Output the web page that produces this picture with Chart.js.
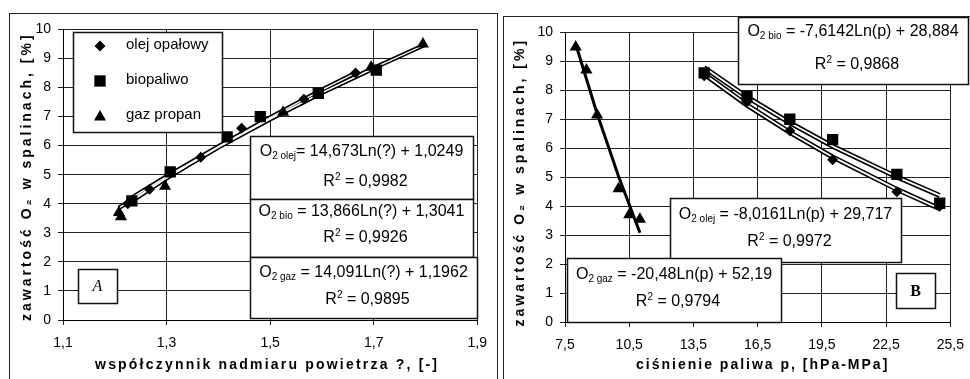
<!DOCTYPE html>
<html>
<head>
<meta charset="utf-8">
<script src="https://cdn.jsdelivr.net/npm/chart.js@4.4.0/dist/chart.umd.min.js"></script>
<style>
  html, body { margin: 0; padding: 0; background: #fff; width: 970px; height: 379px; overflow: hidden; }
  .frame { position: absolute; border: 1px solid #222; border-bottom: none; background: #fff; }
  #frameA { left: 9px; top: 13px; width: 487px; height: 366px; }
  #frameB { left: 503px; top: 16px; width: 470px; height: 363px; }
</style>
</head>
<body>
<div class="frame" id="frameA"><canvas id="chartA"></canvas></div>
<div class="frame" id="frameB"><canvas id="chartB"></canvas></div>
<script>
// ---- chart A : O2 vs lambda ----
const seriesNames = ['olej opałowy', 'biopaliwo', 'gaz propan'];

const lambdaOlej = [1.225, 1.267, 1.366, 1.445, 1.565, 1.665];
const o2Olej     = [4.0, 4.5, 5.6, 6.6, 7.6, 8.5];
const lambdaBio  = [1.233, 1.307, 1.417, 1.481, 1.593, 1.705];
const o2Bio      = [4.1, 5.1, 6.3, 7.0, 7.8, 8.6];
const lambdaGaz  = [1.208, 1.212, 1.297, 1.525, 1.695, 1.795];
const o2Gaz      = [3.7, 3.55, 4.6, 7.15, 8.7, 9.5];

// trend curves
const trendLambdaOlej = [1.225, 1.3, 1.4, 1.5, 1.6, 1.665];
const trendOlej       = [4.0, 4.88, 5.96, 6.97, 7.92, 8.5];
const trendLambdaBio  = [1.233, 1.3, 1.4, 1.5, 1.6, 1.705];
const trendBio        = [4.21, 4.94, 5.97, 6.93, 7.82, 8.7];
const trendLambdaGaz  = [1.208, 1.3, 1.4, 1.5, 1.6, 1.7, 1.8];
const trendGaz        = [3.86, 4.89, 5.94, 6.91, 7.82, 8.67, 9.48];

const xTitleA = 'współczynnik nadmiaru powietrza ?, [-]';
const eqNamesA = ['olej', 'bio', 'gaz'];
const eqTextA  = ['= 14,673Ln(?) + 1,0249', ' = 13,866Ln(?) + 1,3041', ' = 14,091Ln(?) + 1,1962'];
const r2A      = ['0,9982', '0,9926', '0,9895'];

// ---- chart B : O2 vs pressure ----
const pOlej  = [14, 16, 18, 20, 23, 25];
const o2POlej = [8.5, 7.6, 6.6, 5.6, 4.5, 4.0];
const pBio   = [14, 16, 18, 20, 23, 25];
const o2PBio  = [8.6, 7.8, 7.0, 6.3, 5.1, 4.1];
const pGaz   = [8, 8.5, 9, 10, 10.5, 11];
const o2PGaz  = [9.5, 8.7, 7.15, 4.6, 3.7, 3.55];

const trendPOlej = [14, 16, 18, 20, 23, 25];
const trendPOlejV = [8.56, 7.49, 6.55, 5.7, 4.58, 3.91];
const trendPBio  = [14, 16, 18, 20, 23, 25];
const trendPBioV  = [8.79, 7.77, 6.88, 6.07, 5.01, 4.37];
const trendPGaz  = [8, 9, 10, 11];
const trendPGazV  = [9.6, 7.19, 5.03, 3.08];

const xTitleB = 'ciśnienie paliwa p, [hPa-MPa]';
const yTitle = 'zawartość O₂ w spalinach, [%]';
const eqNamesB = ['bio', 'olej', 'gaz'];
const eqTextB  = [' = -7,6142Ln(p) + 28,884', ' = -8,0161Ln(p) + 29,717', ' = -20,48Ln(p) + 52,19'];
const r2B      = ['0,9868', '0,9972', '0,9794'];

const pts = (xs, ys) => xs.map((x, i) => ({x: x, y: ys[i]}));
const FONT = '"Liberation Sans", Arial, sans-serif';

function markerSet(name, xs, ys, style, r) {
  return { label: name, data: pts(xs, ys), showLine: false, pointStyle: style, pointRadius: r,
    pointHoverRadius: r, pointBackgroundColor: '#000', pointBorderColor: '#000', pointBorderWidth: 0, order: 1 };
}
function trendSet(xs, ys, color, w, order) {
  return { label: 'hide', data: pts(xs, ys), showLine: true, pointRadius: 0, borderColor: color,
    borderWidth: w, tension: 0, order: order };
}

function drawMarker(ctx, style, x, y, r) {
  ctx.beginPath();
  if (style === 'rectRot') {
    ctx.moveTo(x - r, y); ctx.lineTo(x, y - r); ctx.lineTo(x + r, y); ctx.lineTo(x, y + r);
  } else if (style === 'rect') {
    const s = Math.SQRT1_2 * r;
    ctx.rect(x - s, y - s, 2 * s, 2 * s);
  } else {
    ctx.moveTo(x, y - r); ctx.lineTo(x + r * 0.866, y + r * 0.5); ctx.lineTo(x - r * 0.866, y + r * 0.5);
  }
  ctx.closePath();
  ctx.fillStyle = '#000';
  ctx.fill();
}

// text made of runs: [text, size, dy]
function drawRich(ctx, runs, cx, cy) {
  let total = 0;
  runs.forEach(r => { ctx.font = r[1] + 'px ' + FONT; total += ctx.measureText(r[0]).width; });
  let x = cx - total / 2;
  ctx.textAlign = 'left';
  ctx.textBaseline = 'middle';
  runs.forEach(r => {
    ctx.font = r[1] + 'px ' + FONT;
    ctx.fillText(r[0], x, cy + r[2]);
    x += ctx.measureText(r[0]).width;
  });
}

function frameBox(ctx, x, y, w, h) {
  ctx.fillStyle = '#fff';
  ctx.fillRect(x, y, w, h);
  ctx.strokeStyle = '#111';
  ctx.lineWidth = 1.5;
  ctx.strokeRect(x + 0.5, y + 0.5, w, h);
}

const overlay = {
  id: 'overlay',
  afterDraw(chart, args, o) {
    const ctx = chart.ctx;
    const area = chart.chartArea;
    ctx.save();
    ctx.fillStyle = '#000';
    // axis titles
    ctx.font = 'bold 14px ' + FONT;
    ctx.letterSpacing = o.xSpacing + 'px';
    ctx.textAlign = 'center';
    ctx.textBaseline = 'middle';
    ctx.fillText(o.xTitle, (area.left + area.right) / 2 + o.xShift, o.xTitleY);
    ctx.save();
    ctx.translate(o.yTitleX, (area.top + area.bottom) / 2 + o.yShift);
    ctx.rotate(-Math.PI / 2);
    ctx.letterSpacing = o.ySpacing + 'px';
    ctx.fillText(yTitle, 0, 0);
    ctx.restore();
    ctx.letterSpacing = '0px';

    // legend
    if (o.legend) {
      const L = o.legend;
      frameBox(ctx, L.x, L.y, L.w, L.h);
      const styles = ['rectRot', 'rect', 'triangle'];
      const radii = [5.5, 8, 7];
      seriesNames.forEach((n, i) => {
        const yy = L.y + 14 + i * 35;
        drawMarker(ctx, styles[i], L.x + 27, yy + (i === 2 ? 1 : 0), radii[i]);
        ctx.fillStyle = '#000';
        ctx.font = '15px ' + FONT;
        ctx.textAlign = 'left';
        ctx.textBaseline = 'middle';
        ctx.fillText(n, L.x + 53, yy - 1);
      });
    }

    // equation boxes
    o.boxes.forEach((b, i) => {
      frameBox(ctx, b.x, b.y, b.w, b.h);
      ctx.fillStyle = '#000';
      drawRich(ctx, [['O', 16, 0], ['2 ' + o.eqNames[i], 10, 4], [o.eqText[i], 16, 0]], b.x + b.w / 2, b.y + b.l1);
      drawRich(ctx, [['R', 16, 0], ['2', 10, -5], [' = ' + o.r2[i], 16, 0]], b.x + b.w / 2 + 4, b.y + b.l2);
    });

    // panel letter
    const P = o.panel;
    frameBox(ctx, P.x, P.y, P.w, P.h);
    ctx.fillStyle = '#000';
    ctx.font = (P.italic ? 'italic ' : 'bold ') + '16px "Liberation Serif", "Times New Roman", serif';
    ctx.textAlign = 'center';
    ctx.textBaseline = 'middle';
    ctx.fillText(P.t, P.x + P.w / 2, P.y + P.h / 2 + 1);
    ctx.restore();
  }
};

const fmt = v => (Math.round(v * 10) / 10).toFixed(1).replace('.', ',');

function axes(xmin, xmax, xstep, yWidth, xHeight) {
  const tickFont = { family: FONT, size: 14 };
  return {
    x: { type: 'linear', min: xmin, max: xmax,
      ticks: { stepSize: xstep, callback: fmt, color: '#000', font: tickFont, padding: 10, maxRotation: 0 },
      grid: { color: '#222', lineWidth: 1, tickLength: 5 },
      border: { color: '#000', width: 1 },
      afterFit: s => { s.height = xHeight; } },
    y: { type: 'linear', min: 0, max: 10,
      ticks: { stepSize: 1, color: '#000', font: tickFont, padding: 7 },
      grid: { color: '#222', lineWidth: 1, tickLength: 5 },
      border: { color: '#000', width: 1 },
      afterFit: s => { s.width = yWidth; } }
  };
}

new Chart(document.getElementById('chartA'), {
  type: 'scatter',
  data: { datasets: [
    markerSet(seriesNames[0], lambdaOlej, o2Olej, 'rectRot', 5.5),
    markerSet(seriesNames[1], lambdaBio, o2Bio, 'rect', 8),
    markerSet(seriesNames[2], lambdaGaz, o2Gaz, 'triangle', 7),
    trendSet(trendLambdaOlej, trendOlej, '#fff', 1.3, 2),
    trendSet(trendLambdaBio, trendBio, '#fff', 1.3, 2),
    trendSet(trendLambdaGaz, trendGaz, '#fff', 1.3, 2),
    trendSet(trendLambdaOlej, trendOlej, '#000', 4.5, 3),
    trendSet(trendLambdaBio, trendBio, '#000', 4.5, 3),
    trendSet(trendLambdaGaz, trendGaz, '#000', 4.5, 3)
  ]},
  options: {
    responsive: true, maintainAspectRatio: false, animation: false,
    layout: { padding: { top: 14, right: 14, left: 0, bottom: 0 } },
    scales: axes(1.1, 1.9, 0.2, 53, 60),
    plugins: {
      legend: { display: false }, tooltip: { enabled: false },
      overlay: {
        xTitle: xTitleA, xTitleY: 351, xShift: -3, xSpacing: 2.2,
        yTitleX: 17, yShift: 2, ySpacing: 3,
        legend: { x: 63, y: 18, w: 149, h: 100 },
        eqNames: eqNamesA, eqText: eqTextA, r2: r2A,
        boxes: [
          { x: 240, y: 122, w: 223, h: 63, l1: 16, l2: 46 },
          { x: 240, y: 185, w: 223, h: 58, l1: 13, l2: 39 },
          { x: 240, y: 243, w: 227, h: 61, l1: 16, l2: 43 }
        ],
        panel: { x: 68, y: 255, w: 39, h: 34, t: 'A', italic: true }
      }
    }
  },
  plugins: [overlay]
});

new Chart(document.getElementById('chartB'), {
  type: 'scatter',
  data: { datasets: [
    markerSet(seriesNames[0], pOlej, o2POlej, 'rectRot', 5.5),
    markerSet(seriesNames[1], pBio, o2PBio, 'rect', 8),
    markerSet(seriesNames[2], pGaz, o2PGaz, 'triangle', 7),
    trendSet(trendPOlej, trendPOlejV, '#fff', 1.8, 2),
    trendSet(trendPBio, trendPBioV, '#fff', 1.8, 2),
    trendSet(trendPOlej, trendPOlejV, '#000', 5, 3),
    trendSet(trendPBio, trendPBioV, '#000', 5, 3),
    trendSet(trendPGaz, trendPGazV, '#000', 3, 3)
  ]},
  options: {
    responsive: true, maintainAspectRatio: false, animation: false,
    layout: { padding: { top: 15, right: 19, left: 0, bottom: 0 } },
    scales: axes(7.5, 25.5, 3, 61, 58),
    plugins: {
      legend: { display: false }, tooltip: { enabled: false },
      overlay: {
        xTitle: xTitleB, xTitleY: 348, xShift: 5, xSpacing: 2,
        yTitleX: 16, yShift: 5, ySpacing: 3,
        legend: null,
        eqNames: eqNamesB, eqText: eqTextB, r2: r2B,
        boxes: [
          { x: 234, y: 0, w: 230, h: 67, l1: 15, l2: 48 },
          { x: 166, y: 181, w: 231, h: 64, l1: 17, l2: 44 },
          { x: 63, y: 241, w: 214, h: 64, l1: 17, l2: 44 }
        ],
        panel: { x: 392, y: 256, w: 39, h: 35, t: 'B', italic: false }
      }
    }
  },
  plugins: [overlay]
});
</script>
</body>
</html>
